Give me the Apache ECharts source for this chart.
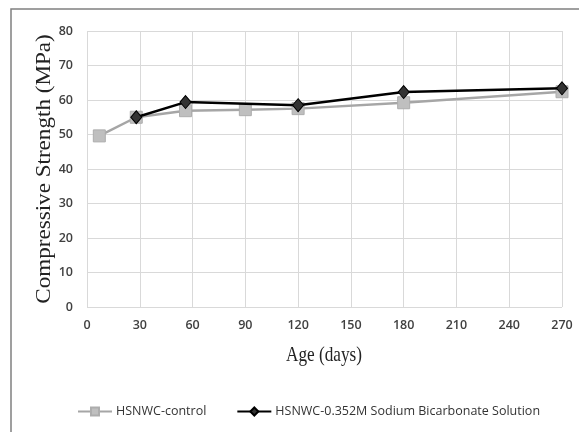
<!DOCTYPE html>
<html lang="en">
<head>
    <meta charset="UTF-8">
    <title>Compressive Strength</title>
    <style>
        html, body { margin: 0; padding: 0; background: #fff; }
        #chartmain { width: 579px; height: 432px; }
    </style>
</head>
<body>
    <div id="chartmain"></div>
    <script src="https://cdn.jsdelivr.net/npm/echarts@6/dist/echarts.min.js"></script>
    <script type="text/javascript">
        // ages in days, strength in MPa
        var controlAge = [7, 28, 56, 90, 120, 180, 270];
        var controlStrength = [49.6, 55.0, 56.9, 57.2, 57.5, 59.2, 62.4];
        var sodiumAge = [28, 56, 120, 180, 270];
        var sodiumStrength = [55.0, 59.4, 58.5, 62.3, 63.4];
        var seriesNames = ['HSNWC-control', 'HSNWC-0.352M Sodium Bicarbonate Solution'];
        var xTitle = 'Age (days)';
        var yTitle = 'Compressive Strength (MPa)';

        function pairs(xs, ys) {
            var out = [];
            for (var i = 0; i < xs.length; i++) out.push([xs[i], ys[i]]);
            return out;
        }

        var labelFont = { fontFamily: 'Open Sans', fontSize: 12.5, fontWeight: 600, color: '#404040' };

        var mychart = echarts.init(document.getElementById('chartmain'));
        var option = {
            animation: false,
            backgroundColor: '#fff',
            graphic: [{
                type: 'rect',
                shape: { x: 11, y: 9, width: 700, height: 600 },
                style: { fill: 'none', stroke: '#808080', lineWidth: 1.5 },
                silent: true
            }, {
                // axis titles as text, squeezed like the source image
                type: 'text',
                x: 324, y: 355,
                scaleX: 0.82,
                style: { text: xTitle, font: '21px "Liberation Serif"', fill: '#222', align: 'center', verticalAlign: 'middle' },
                silent: true
            }, {
                type: 'text',
                x: 45, y: 169,
                rotation: Math.PI / 2,
                scaleX: 1.1, scaleY: 0.95,
                style: { text: yTitle, font: '21px "Liberation Serif"', fill: '#222', align: 'center', verticalAlign: 'middle' },
                silent: true
            }],
            grid: { left: 87, right: 17, top: 31, bottom: 125 },
            legend: {
                top: 400,
                left: 72,
                itemGap: 30,
                itemWidth: 34,
                itemHeight: 10,
                textStyle: { fontFamily: 'Open Sans', fontSize: 12.5, color: '#333', padding: [0, 0, 0, -1] },
                data: seriesNames
            },
            xAxis: {
                type: 'value',
                min: 0, max: 270, interval: 30,
                axisLine: { show: false },
                axisTick: { show: false },
                axisLabel: Object.assign({ margin: 12 }, labelFont),
                splitLine: { show: true, lineStyle: { color: '#d9d9d9', width: 1 } }
            },
            yAxis: {
                type: 'value',
                min: 0, max: 80, interval: 10,
                axisLine: { show: false },
                axisTick: { show: false },
                axisLabel: Object.assign({ margin: 14 }, labelFont),
                splitLine: { show: true, lineStyle: { color: '#d9d9d9', width: 1 } }
            },
            series: [{
                name: seriesNames[0],
                type: 'line',
                data: pairs(controlAge, controlStrength),
                symbol: 'rect',
                symbolSize: 12,
                lineStyle: { color: '#a6a6a6', width: 2.5 },
                itemStyle: { color: '#bfbfbf', borderColor: '#adadad', borderWidth: 1 },
                z: 2
            }, {
                name: seriesNames[1],
                type: 'line',
                data: pairs(sodiumAge, sodiumStrength),
                symbol: 'diamond',
                symbolSize: [11, 13],
                lineStyle: { color: '#000', width: 2.5 },
                itemStyle: { color: '#333', borderColor: '#000', borderWidth: 1 },
                z: 3
            }]
        };
        mychart.setOption(option, true);
    </script>
</body>
</html>
